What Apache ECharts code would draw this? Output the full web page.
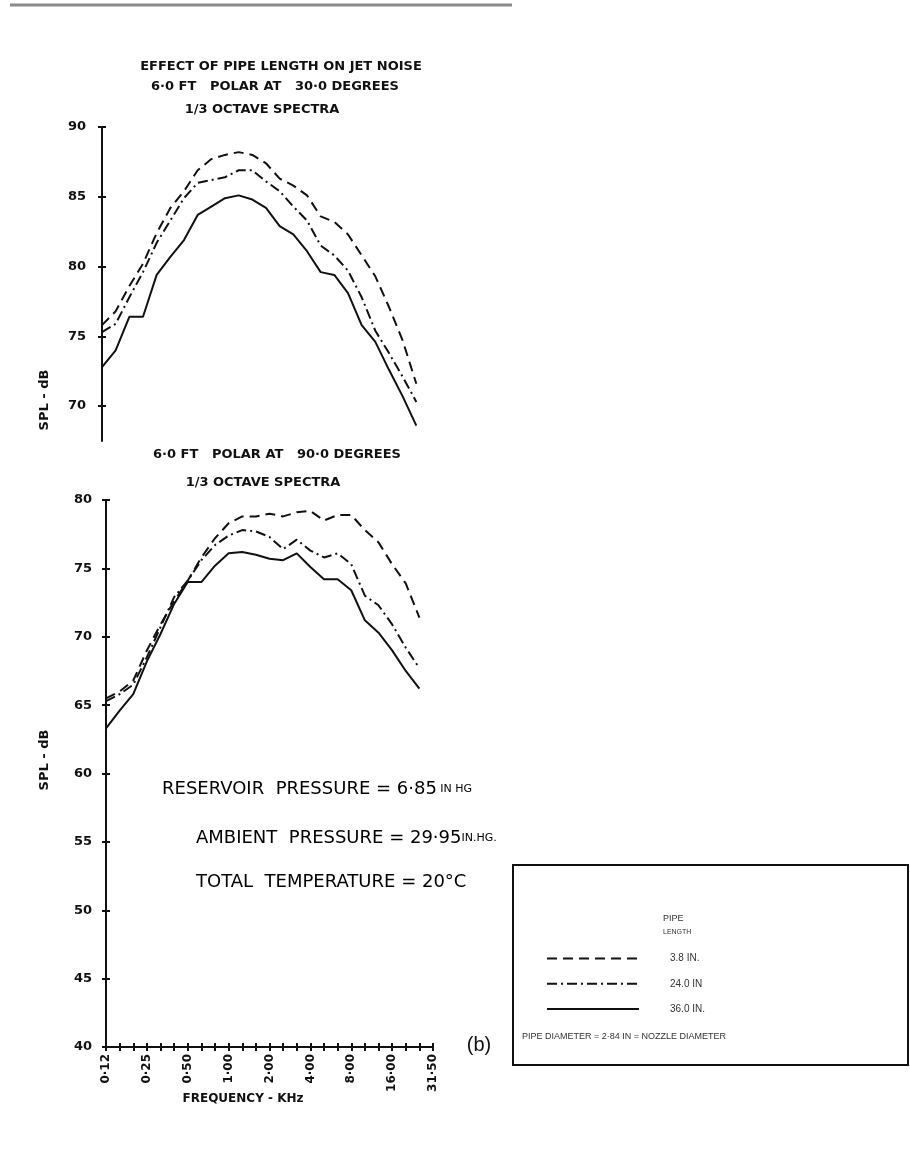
<!DOCTYPE html>
<html>
<head>
<meta charset="utf-8">
<script src="https://cdn.jsdelivr.net/npm/echarts@6/dist/echarts.min.js"></script>
<style>
html,body{margin:0;padding:0;background:#fff;}
#chart{width:910px;height:1162px;}
</style>
</head>
<body>
<div id="chart"></div>
<script>
// 1/3-octave band centre frequencies (kHz)
const freqBands = ['0.125','0.16','0.2','0.25','0.315','0.4','0.5','0.63','0.8','1.0','1.25','1.6','2.0','2.5','3.15','4.0','5.0','6.3','8.0','10','12.5','16','20','25','31.5'];
const freqTickLabels = ['0·12','0·25','0·50','1·00','2·00','4·00','8·00','16·00','31·50'];
const seriesNames = ['3.8 IN.', '24.0 IN', '36.0 IN.'];

// Polar angle 30 deg
const polar30_3p8 = [75.8, 76.8, 78.6, 80.2, 82.4, 84.2, 85.4, 86.9, 87.7, 88.0, 88.2, 88.0, 87.4, 86.3, 85.8, 85.1, 83.6, 83.2, 82.3, 80.8, 79.3, 77.1, 74.7, 71.6];
const polar30_24  = [75.3, 75.9, 77.8, 79.6, 81.7, 83.3, 84.9, 86.0, 86.2, 86.4, 86.9, 86.9, 86.1, 85.4, 84.3, 83.3, 81.5, 80.8, 79.7, 77.8, 75.4, 73.8, 72.1, 70.3];
const polar30_36  = [72.8, 74.0, 76.4, 76.4, 79.4, 80.7, 81.9, 83.7, 84.3, 84.9, 85.1, 84.8, 84.2, 82.9, 82.3, 81.1, 79.6, 79.4, 78.1, 75.8, 74.6, 72.6, 70.7, 68.6];

// Polar angle 90 deg
const polar90_3p8 = [65.5, 66.0, 66.8, 69.0, 70.9, 72.6, 74.1, 75.8, 77.2, 78.3, 78.8, 78.8, 79.0, 78.8, 79.1, 79.2, 78.5, 78.9, 78.9, 77.8, 76.9, 75.3, 73.9, 71.4];
const polar90_24  = [65.3, 65.8, 66.5, 68.5, 70.7, 72.9, 74.1, 75.6, 76.7, 77.4, 77.8, 77.7, 77.3, 76.4, 77.1, 76.3, 75.8, 76.1, 75.3, 73.0, 72.3, 70.9, 69.2, 67.7];
const polar90_36  = [63.3, 64.6, 65.8, 68.2, 70.2, 72.4, 74.0, 74.0, 75.2, 76.1, 76.2, 76.0, 75.7, 75.6, 76.1, 75.1, 74.2, 74.2, 73.4, 71.2, 70.3, 69.0, 67.5, 66.2];

const topYTicks = [70, 75, 80, 85, 90];

const INK = '#111';
const PLOT_FONT = 'DejaVu Sans';
const HAND_FONT = 'DejaVu Sans';
const SMALL_FONT = 'Liberation Sans';

const lineStyles = [
  {type: [10, 6], width: 2, color: INK},
  {type: [10, 4, 2, 4], width: 2, color: INK},
  {type: 'solid', width: 2, color: INK}
];

function mkSeries(name, data, idx, styleIdx) {
  return {
    name: name, type: 'line', data: data,
    xAxisIndex: idx, yAxisIndex: idx,
    symbol: 'none', showSymbol: false, smooth: false, animation: false,
    lineStyle: lineStyles[styleIdx], itemStyle: {color: INK}
  };
}

const chart = echarts.init(document.getElementById('chart'), null, {renderer: 'canvas'});

const labelStyle = {color: INK, fontFamily: PLOT_FONT, fontWeight: 'bold', fontSize: 13};
const handRich = {
  m: {fontFamily: HAND_FONT, fontSize: 18, color: INK},
  u: {fontFamily: HAND_FONT, fontSize: 11, color: INK}
};

const option = {
  backgroundColor: '#fff',
  animation: false,
  grid: [
    {left: 102, top: 127, width: 328, height: 314},
    {left: 106, top: 500, width: 327, height: 547}
  ],
  xAxis: [
    {type: 'category', gridIndex: 0, data: freqBands, boundaryGap: false,
     axisLine: {show: false}, axisTick: {show: false}, axisLabel: {show: false}, splitLine: {show: false}},
    {type: 'category', gridIndex: 1, data: freqBands, boundaryGap: false,
     axisLine: {show: true, lineStyle: {color: INK, width: 2}},
     axisTick: {show: true, interval: 0, length: 4, lineStyle: {color: INK, width: 2}},
     axisLabel: {show: true, interval: 2, rotate: 90, margin: 7, ...labelStyle, fontSize: 12,
       formatter: function (v, i) { return freqTickLabels[i / 3]; }},
     splitLine: {show: false}},
    {type: 'category', gridIndex: 1, data: freqBands, boundaryGap: false, position: 'bottom',
     axisLine: {show: false},
     axisTick: {show: true, inside: true, interval: 0, length: 4, lineStyle: {color: INK, width: 2}},
     axisLabel: {show: false}, splitLine: {show: false}}
  ],
  yAxis: [
    {type: 'value', gridIndex: 0, min: 67.5, max: 90,
     axisLine: {show: true, lineStyle: {color: INK, width: 2}},
     axisTick: {show: true, length: 4, customValues: topYTicks, lineStyle: {color: INK, width: 2}},
     axisLabel: {show: true, margin: 16, customValues: topYTicks, ...labelStyle},
     splitLine: {show: false}},
    {type: 'value', gridIndex: 1, min: 40, max: 80, interval: 5,
     axisLine: {show: true, lineStyle: {color: INK, width: 2}},
     axisTick: {show: true, length: 4, lineStyle: {color: INK, width: 2}},
     axisLabel: {show: true, margin: 14, ...labelStyle},
     splitLine: {show: false}},
    {type: 'value', gridIndex: 0, min: 67.5, max: 90, position: 'left',
     axisLine: {show: false},
     axisTick: {show: true, inside: true, length: 4, customValues: topYTicks, lineStyle: {color: INK, width: 2}},
     axisLabel: {show: false}, splitLine: {show: false}},
    {type: 'value', gridIndex: 1, min: 40, max: 80, interval: 5, position: 'left',
     axisLine: {show: false},
     axisTick: {show: true, inside: true, length: 4, lineStyle: {color: INK, width: 2}},
     axisLabel: {show: false}, splitLine: {show: false}}
  ],
  legend: {
    show: true, orient: 'vertical', left: 541, top: 948,
    itemWidth: 92, itemHeight: 14, itemGap: 14,
    data: seriesNames,
    selectedMode: false,
    itemStyle: {opacity: 0},
    textStyle: {color: '#333', fontFamily: SMALL_FONT, fontSize: 10, padding: [0, 0, 0, 26]}
  },
  series: [
    mkSeries(seriesNames[0], polar30_3p8, 0, 0),
    mkSeries(seriesNames[1], polar30_24, 0, 1),
    mkSeries(seriesNames[2], polar30_36, 0, 2),
    mkSeries(seriesNames[0], polar90_3p8, 1, 0),
    mkSeries(seriesNames[1], polar90_24, 1, 1),
    mkSeries(seriesNames[2], polar90_36, 1, 2)
  ],
  graphic: [
    {type: 'line', shape: {x1: 10, y1: 5, x2: 512, y2: 5}, style: {stroke: '#8a8a8a', lineWidth: 3}},
    {type: 'text', x: 281, y: 67, style: {text: 'EFFECT OF PIPE LENGTH ON JET NOISE', align: 'center', verticalAlign: 'middle', fill: INK, font: 'bold 13px ' + PLOT_FONT}},
    {type: 'text', x: 275, y: 87, style: {text: '6·0 FT   POLAR AT   30·0 DEGREES', align: 'center', verticalAlign: 'middle', fill: INK, font: 'bold 13px ' + PLOT_FONT}},
    {type: 'text', x: 262, y: 110, style: {text: '1/3 OCTAVE SPECTRA', align: 'center', verticalAlign: 'middle', fill: INK, font: 'bold 13px ' + PLOT_FONT}},
    {type: 'text', x: 277, y: 455, style: {text: '6·0 FT   POLAR AT   90·0 DEGREES', align: 'center', verticalAlign: 'middle', fill: INK, font: 'bold 13px ' + PLOT_FONT}},
    {type: 'text', x: 263, y: 483, style: {text: '1/3 OCTAVE SPECTRA', align: 'center', verticalAlign: 'middle', fill: INK, font: 'bold 13px ' + PLOT_FONT}},
    {type: 'text', x: 45, y: 400, rotation: Math.PI / 2, style: {text: 'SPL - dB', align: 'center', verticalAlign: 'middle', fill: INK, font: 'bold 13px ' + PLOT_FONT}},
    {type: 'text', x: 45, y: 760, rotation: Math.PI / 2, style: {text: 'SPL - dB', align: 'center', verticalAlign: 'middle', fill: INK, font: 'bold 13px ' + PLOT_FONT}},
    {type: 'text', x: 243, y: 1099, style: {text: 'FREQUENCY - KHz', align: 'center', verticalAlign: 'middle', fill: INK, font: 'bold 12px ' + PLOT_FONT}},
    {type: 'text', x: 479, y: 1045, style: {text: '(b)', align: 'center', verticalAlign: 'middle', fill: INK, font: '20px ' + SMALL_FONT}},
    {type: 'text', x: 162, y: 789, style: {text: '{m|RESERVOIR  PRESSURE = 6·85} {u|IN HG}', rich: handRich, align: 'left', verticalAlign: 'middle'}},
    {type: 'text', x: 196, y: 838, style: {text: '{m|AMBIENT  PRESSURE = 29·95}{u|IN.HG.}', rich: handRich, align: 'left', verticalAlign: 'middle'}},
    {type: 'text', x: 196, y: 882, style: {text: '{m|TOTAL  TEMPERATURE = 20°C}', rich: handRich, align: 'left', verticalAlign: 'middle'}},
    {type: 'rect', shape: {x: 513, y: 865, width: 395, height: 200}, style: {fill: 'none', stroke: INK, lineWidth: 2}},
    {type: 'text', x: 663, y: 919, style: {text: 'PIPE', align: 'left', verticalAlign: 'middle', fill: '#333', font: '9px ' + SMALL_FONT}},
    {type: 'text', x: 663, y: 932, style: {text: 'LENGTH', align: 'left', verticalAlign: 'middle', fill: '#333', font: '7px ' + SMALL_FONT}},
    {type: 'text', x: 522, y: 1037, style: {text: 'PIPE DIAMETER = 2·84 IN = NOZZLE DIAMETER', align: 'left', verticalAlign: 'middle', fill: '#333', font: '9px ' + SMALL_FONT}}
  ]
};
chart.setOption(option);
</script>
</body>
</html>
